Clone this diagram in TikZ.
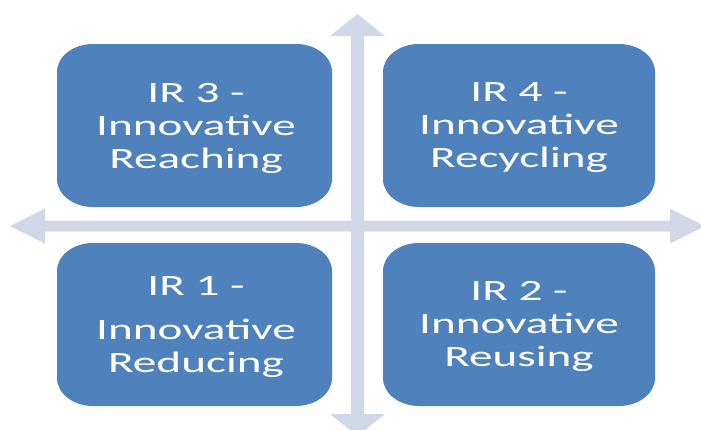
\documentclass[tikz,border=0pt]{standalone}
\usepackage{fontspec}
\setmainfont{Carlito}[FakeStretch=1.6]
\definecolor{boxblue}{HTML}{4F81BD}
\definecolor{axisgrey}{HTML}{D0D8E8}
\newcommand\quadbox[4]{%
  \fill[boxblue] (#1+36,#2) -- (#3-36,#2)
    arc[start angle=-90,end angle=0,x radius=36,y radius=28] -- (#3,#4-28)
    arc[start angle=0,end angle=90,x radius=36,y radius=28] -- (#1+36,#4)
    arc[start angle=90,end angle=180,x radius=36,y radius=28] -- (#1,#2+28)
    arc[start angle=180,end angle=270,x radius=36,y radius=28] -- cycle;}
\tikzset{
  axis/.style={fill=axisgrey},
  lbl/.style={text=white,align=center,inner sep=0pt,
    font=\fontsize{29.5}{33}\selectfont}
}
\begin{document}
\begin{tikzpicture}[x=1pt,y=-1pt]
\useasboundingbox (0,0) rectangle (701,429);
\clip (0,0) rectangle (701,429);
% vertical double arrow
\fill[axis] (357.5,14) -- (385,36) -- (364,36) -- (364,414) -- (385,414)
  -- (357.5,436) -- (330,414) -- (351,414) -- (351,36) -- (330,36) -- cycle;
% horizontal double arrow
\fill[axis] (10,226) -- (45,208.5) -- (45,220.5) -- (670,220.5) -- (670,208.5)
  -- (705,226) -- (670,243.5) -- (670,231.5) -- (45,231.5) -- (45,243.5) -- cycle;
% boxes
\quadbox{57}{44}{332}{207}
\quadbox{383}{44}{655}{207}
\quadbox{57}{243}{332}{406}
\quadbox{383}{243}{655}{406}
% labels
\node[lbl] (ir3) at (196,128) {IR 3 -\\Innovative\\Reaching};
\node[lbl] (ir4) at (519,128) {IR 4 -\\Innovative\\Recycling};
\node[lbl] (ir1) at (196,327) {IR 1 -\\[11pt]Innovative\\Reducing};
\node[lbl] (ir2) at (519,326) {IR 2 -\\Innovative\\Reusing};
\end{tikzpicture}
\end{document}
